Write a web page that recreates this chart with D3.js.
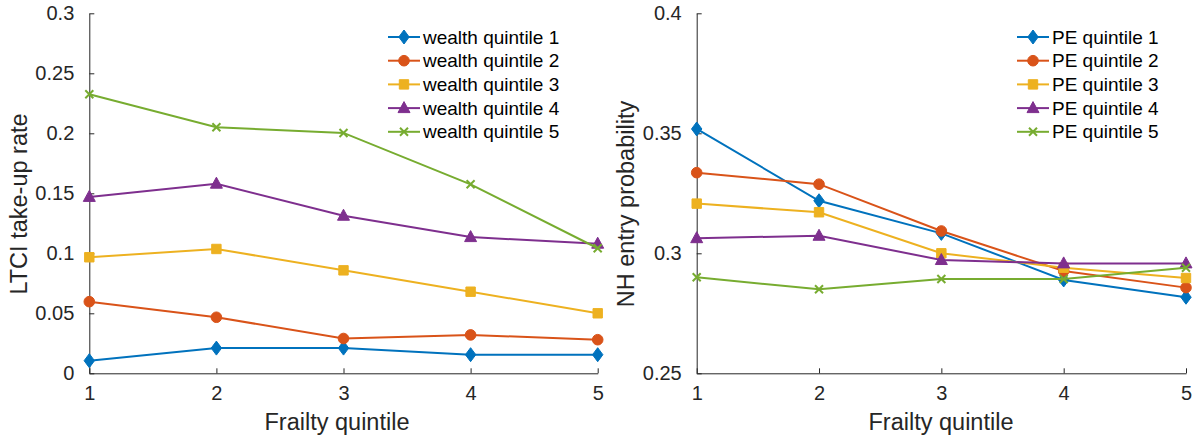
<!DOCTYPE html>
<html>
<head>
<meta charset="utf-8">
<script src="https://cdn.jsdelivr.net/npm/d3@7"></script>
<style>
  body { margin: 0; background: #fff; }
  svg { display: block; font-family: "Liberation Sans", Arial, sans-serif; }
  .axis path, .axis line { stroke: #262626; stroke-width: 1; }
  .axis text { fill: #262626; font-size: 20px; font-family: "Liberation Sans", Arial, sans-serif; }
  .label { fill: #262626; font-size: 23.5px; }
  .legend text { fill: #000; font-size: 19px; }
</style>
</head>
<body>
<div id="chart"></div>
<script>
// frailty quintiles on the x axis
const quintiles = [1, 2, 3, 4, 5];

// left panel: LTCI take-up rate by wealth quintile
const wealthLabels = ['wealth quintile 1', 'wealth quintile 2', 'wealth quintile 3', 'wealth quintile 4', 'wealth quintile 5'];
const wealth1 = [0.0105, 0.021, 0.021, 0.0155, 0.0155];
const wealth2 = [0.0597, 0.0467, 0.029, 0.032, 0.028];
const wealth3 = [0.0967, 0.1036, 0.0858, 0.068, 0.050];
const wealth4 = [0.147, 0.158, 0.1313, 0.1135, 0.108];
const wealth5 = [0.2325, 0.205, 0.2003, 0.1575, 0.1042];
const wealthTicks = [0, 0.05, 0.1, 0.15, 0.2, 0.25, 0.3];

// right panel: NH entry probability by PE quintile
const peLabels = ['PE quintile 1', 'PE quintile 2', 'PE quintile 3', 'PE quintile 4', 'PE quintile 5'];
const pe1 = [0.3518, 0.3219, 0.3083, 0.2889, 0.2817];
const pe2 = [0.3336, 0.3288, 0.3093, 0.2926, 0.2857];
const pe3 = [0.3207, 0.3171, 0.300, 0.294, 0.2897];
const pe4 = [0.3063, 0.3073, 0.2972, 0.2958, 0.2958];
const pe5 = [0.290, 0.285, 0.2893, 0.2893, 0.294];
const peTicks = [0.25, 0.3, 0.35, 0.4];

const colors = ['#0072BD', '#D95319', '#EDB120', '#7E2F8E', '#77AC30'];
const markers = ['diamond', 'circle', 'square', 'triangle', 'cross'];

// marker path centred on 0,0
function markerPath(type) {
    switch (type) {
        case 'diamond': return 'M0,-7L5.2,0L0,7L-5.2,0Z';
        case 'circle': return 'M5.3,0A5.3,5.3 0 1,1 -5.3,0A5.3,5.3 0 1,1 5.3,0Z';
        case 'square': return 'M-4.7,-4.7H4.7V4.7H-4.7Z';
        case 'triangle': return 'M0,-6.5L6,4.5L-6,4.5Z';
        default: return 'M-4,-4L4,4M-4,4L4,-4';
    }
}

function drawMarker(sel, type, color) {
    sel.append('path')
        .attr('d', markerPath(type))
        .attr('fill', type === 'cross' ? 'none' : color)
        .attr('stroke', color)
        .attr('stroke-width', type === 'cross' ? 2 : 1);
}

function panel(svg, opts) {
    let x = d3.scaleLinear().domain([1, 5]).range(opts.xRange);
    let y = d3.scaleLinear().domain(opts.yDomain).range([373.3, 13.3]);

    let g = svg.append('g');

    // axes, ticks pointing inward
    g.append('g')
        .attr('class', 'axis')
        .attr('transform', `translate(0,${y.range()[0]})`)
        .call(d3.axisBottom(x).tickValues(quintiles).tickFormat(d3.format('d'))
            .tickSizeInner(-5).tickSizeOuter(0).tickPadding(13));

    g.append('g')
        .attr('class', 'axis')
        .attr('transform', `translate(${x.range()[0]},0)`)
        .call(d3.axisLeft(y).tickValues(opts.ticks).tickFormat(d => String(+d.toFixed(2)))
            .tickSizeInner(-5).tickSizeOuter(0).tickPadding(15));

    // axis labels
    g.append('text')
        .attr('class', 'label')
        .attr('x', opts.xLabelX)
        .attr('y', 430)
        .attr('text-anchor', 'middle')
        .text('Frailty quintile');
    g.append('text')
        .attr('class', 'label')
        .attr('transform', `translate(${opts.yLabelX},${opts.yLabelY}) rotate(-90)`)
        .attr('text-anchor', 'middle')
        .text(opts.yLabel);

    let line = d3.line()
        .x((d, i) => x(quintiles[i]))
        .y(d => y(d));

    opts.series.forEach((s, k) => {
        g.append('path')
            .attr('d', line(s))
            .attr('fill', 'none')
            .attr('stroke', colors[k])
            .attr('stroke-width', 2);
        s.forEach((v, i) => {
            let m = g.append('g').attr('transform', `translate(${x(quintiles[i])},${y(v)})`);
            drawMarker(m, markers[k], colors[k]);
        });
    });

    // legend without box
    let legend = g.append('g').attr('class', 'legend');
    opts.labels.forEach((lab, k) => {
        let row = legend.append('g')
            .attr('transform', `translate(${opts.legendX},${37 + k * 23.7})`);
        row.append('line')
            .attr('x1', 0).attr('x2', 32)
            .attr('stroke', colors[k]).attr('stroke-width', 2);
        let m = row.append('g').attr('transform', 'translate(16,0)');
        drawMarker(m, markers[k], colors[k]);
        row.append('text')
            .attr('x', 35)
            .attr('dy', '0.35em')
            .text(lab);
    });
}

let svg = d3.select('#chart')
    .append('svg')
    .attr('width', 1198)
    .attr('height', 436);

panel(svg, {
    xRange: [89.3, 597.7],
    yDomain: [0, 0.3],
    ticks: wealthTicks,
    series: [wealth1, wealth2, wealth3, wealth4, wealth5],
    labels: wealthLabels,
    xLabelX: 337,
    yLabel: 'LTCI take-up rate',
    yLabelX: 27,
    yLabelY: 204,
    legendX: 388
});

panel(svg, {
    xRange: [696.7, 1186],
    yDomain: [0.25, 0.4],
    ticks: peTicks,
    series: [pe1, pe2, pe3, pe4, pe5],
    labels: peLabels,
    xLabelX: 941,
    yLabel: 'NH entry probability',
    yLabelX: 634,
    yLabelY: 204,
    legendX: 1017
});
</script>
</body>
</html>
